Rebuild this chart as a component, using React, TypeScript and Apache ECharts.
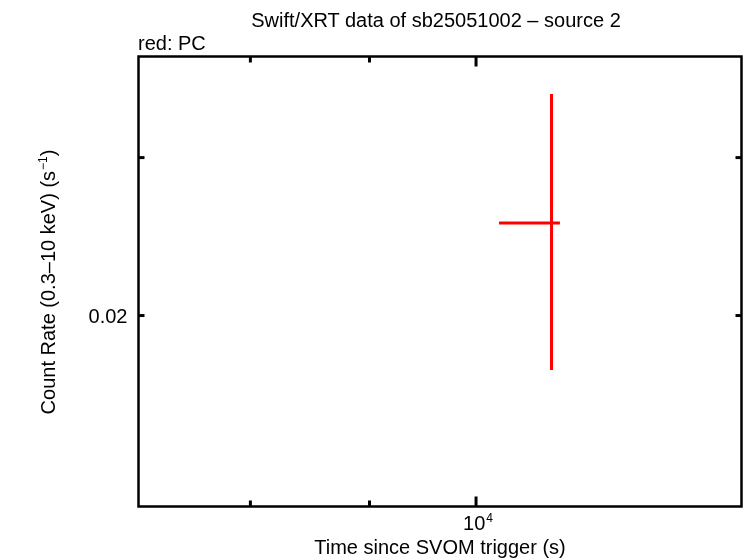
import React, { useEffect, useRef } from "react";
import * as echarts from "echarts";

// ---- texts ----
const TITLE = "Swift/XRT data of sb25051002 \u2013 source 2";
const SUBTITLE = "red: PC";
const X_NAME = "Time since SVOM trigger (s)";

// ---- data (PC mode point) ----
const timeMid = [10775];
const timeStart = [10230];
const timeEnd = [10865];
const rate = [0.02536];
const rateLow = [0.01739];
const rateHigh = [0.03532];

// ---- axis ranges & ticks ----
const xRange = [7162, 13002];
const yRange = [0.01225, 0.03889];
const xMinorTicks = [8000, 9000];
const xMajorTicks = [10000];
const xLabelValues = [10000];
const xLabelTexts = ["{n|10}{sup|4}"];
const yTicks = [0.02, 0.03];
const yLabelValues = [0.02];
const yLabelTexts = ["0.02"];

const FONT = "'Liberation Sans', Arial, Helvetica, sans-serif";
const FS = 20;

export default function App() {
  const ref = useRef<HTMLDivElement>(null);
  useEffect(() => {
    if (!ref.current) return;
    const chart = echarts.init(ref.current, undefined, { renderer: "svg" });

    const errData = timeMid.map((t, i) => [t, timeStart[i], timeEnd[i], rate[i], rateLow[i], rateHigh[i]]);

    const xTickRender = (len: number) => (params: any, api: any) => {
      const cs = params.coordSys;
      const px = api.coord([api.value(0), yRange[0]])[0];
      const st = { stroke: "#000", lineWidth: 3 };
      return {
        type: "group",
        children: [
          { type: "line", shape: { x1: px, y1: cs.y + cs.height, x2: px, y2: cs.y + cs.height - len }, style: st },
          { type: "line", shape: { x1: px, y1: cs.y, x2: px, y2: cs.y + len }, style: st },
        ],
      };
    };
    const yTickRender = (len: number) => (params: any, api: any) => {
      const cs = params.coordSys;
      const py = api.coord([xRange[0], api.value(1)])[1];
      const st = { stroke: "#000", lineWidth: 3 };
      return {
        type: "group",
        children: [
          { type: "line", shape: { x1: cs.x, y1: py, x2: cs.x + len, y2: py }, style: st },
          { type: "line", shape: { x1: cs.x + cs.width, y1: py, x2: cs.x + cs.width - len, y2: py }, style: st },
        ],
      };
    };

    const rich = {
      sup: { fontSize: 12, fontFamily: FONT, color: "#000", verticalAlign: "bottom", padding: [0, 0, 9, 1] },
      n: { fontSize: FS, fontFamily: FONT, color: "#000", verticalAlign: "bottom" },
    };

    chart.setOption({
      animation: false,
      grid: {
        left: 138.5,
        right: 4.5,
        top: 56.5,
        bottom: 51.5,
        show: true,
        borderColor: "#000",
        borderWidth: 2.5,
        backgroundColor: "transparent",
      },
      xAxis: {
        type: "log",
        logBase: 10,
        min: xRange[0],
        max: xRange[1],
        axisLine: { show: false },
        axisTick: { show: false },
        axisLabel: { show: false },
        splitLine: { show: false },
      },
      yAxis: {
        type: "log",
        logBase: 10,
        min: yRange[0],
        max: yRange[1],
        axisLine: { show: false },
        axisTick: { show: false },
        axisLabel: { show: false },
        splitLine: { show: false },
      },
      graphic: [
        {
          type: "text",
          x: 436,
          y: 20,
          style: { text: TITLE, font: `${FS}px ${FONT}`, fill: "#000", align: "center", verticalAlign: "middle" },
        },
        {
          type: "text",
          x: 138,
          y: 43,
          style: { text: SUBTITLE, font: `${FS}px ${FONT}`, fill: "#000", align: "left", verticalAlign: "middle" },
        },
        {
          type: "text",
          x: 440,
          y: 547,
          style: { text: X_NAME, font: `${FS}px ${FONT}`, fill: "#000", align: "center", verticalAlign: "middle" },
        },
        {
          type: "text",
          x: 47,
          y: 282,
          rotation: Math.PI / 2,
          style: {
            text: "{n|Count Rate (0.3\u201310 keV) (s}{sup|\u22121}{n|)}",
            rich,
            font: `${FS}px ${FONT}`,
            fill: "#000",
            align: "center",
            verticalAlign: "middle",
          },
        },
      ],
      series: [
        {
          type: "custom",
          clip: false,
          silent: true,
          data: xMinorTicks.map((v) => [v, yRange[0]]),
          encode: { x: 0, y: 1 },
          renderItem: xTickRender(6),
        },
        {
          type: "custom",
          clip: false,
          silent: true,
          data: xMajorTicks.map((v) => [v, yRange[0]]),
          encode: { x: 0, y: 1 },
          renderItem: xTickRender(10),
        },
        {
          type: "custom",
          clip: false,
          silent: true,
          data: yTicks.map((v) => [xRange[0], v]),
          encode: { x: 0, y: 1 },
          renderItem: yTickRender(6),
        },
        {
          type: "custom",
          clip: false,
          silent: true,
          data: xLabelValues.map((v, i) => [v, yRange[0], i]),
          encode: { x: 0, y: 1 },
          renderItem: (params: any, api: any) => {
            const cs = params.coordSys;
            const px = api.coord([api.value(0), yRange[0]])[0];
            return {
              type: "text",
              x: px + 2,
              y: cs.y + cs.height + 5,
              style: {
                text: xLabelTexts[api.value(2)],
                rich,
                font: `${FS}px ${FONT}`,
                fill: "#000",
                align: "center",
                verticalAlign: "top",
                textAlign: "center",
                textVerticalAlign: "top",
              },
            };
          },
        },
        {
          type: "custom",
          clip: false,
          silent: true,
          data: yLabelValues.map((v, i) => [xRange[0], v, i]),
          encode: { x: 0, y: 1 },
          renderItem: (params: any, api: any) => {
            const cs = params.coordSys;
            const py = api.coord([xRange[0], api.value(1)])[1];
            return {
              type: "text",
              x: cs.x - 11,
              y: py,
              style: {
                text: yLabelTexts[api.value(2)],
                font: `${FS}px ${FONT}`,
                fill: "#000",
                align: "right",
                verticalAlign: "middle",
                textAlign: "right",
                textVerticalAlign: "middle",
              },
            };
          },
        },
        {
          type: "custom",
          clip: false,
          silent: true,
          data: errData,
          encode: { x: [0, 1, 2], y: [3, 4, 5] },
          renderItem: (params: any, api: any) => {
            const x = api.value(0);
            const y = api.value(3);
            const l = api.coord([api.value(1), y]);
            const r = api.coord([api.value(2), y]);
            const b = api.coord([x, api.value(4)]);
            const t = api.coord([x, api.value(5)]);
            const st = { stroke: "#ff0000", lineWidth: 3 };
            return {
              type: "group",
              children: [
                { type: "line", shape: { x1: l[0], y1: l[1], x2: r[0], y2: r[1] }, style: st },
                { type: "line", shape: { x1: t[0], y1: t[1], x2: b[0], y2: b[1] }, style: st },
              ],
            };
          },
        },
      ],
    });
    return () => chart.dispose();
  }, []);
  return <div ref={ref} style={{ position: "fixed", left: 0, top: 0, width: 746, height: 558 }} />;
}
